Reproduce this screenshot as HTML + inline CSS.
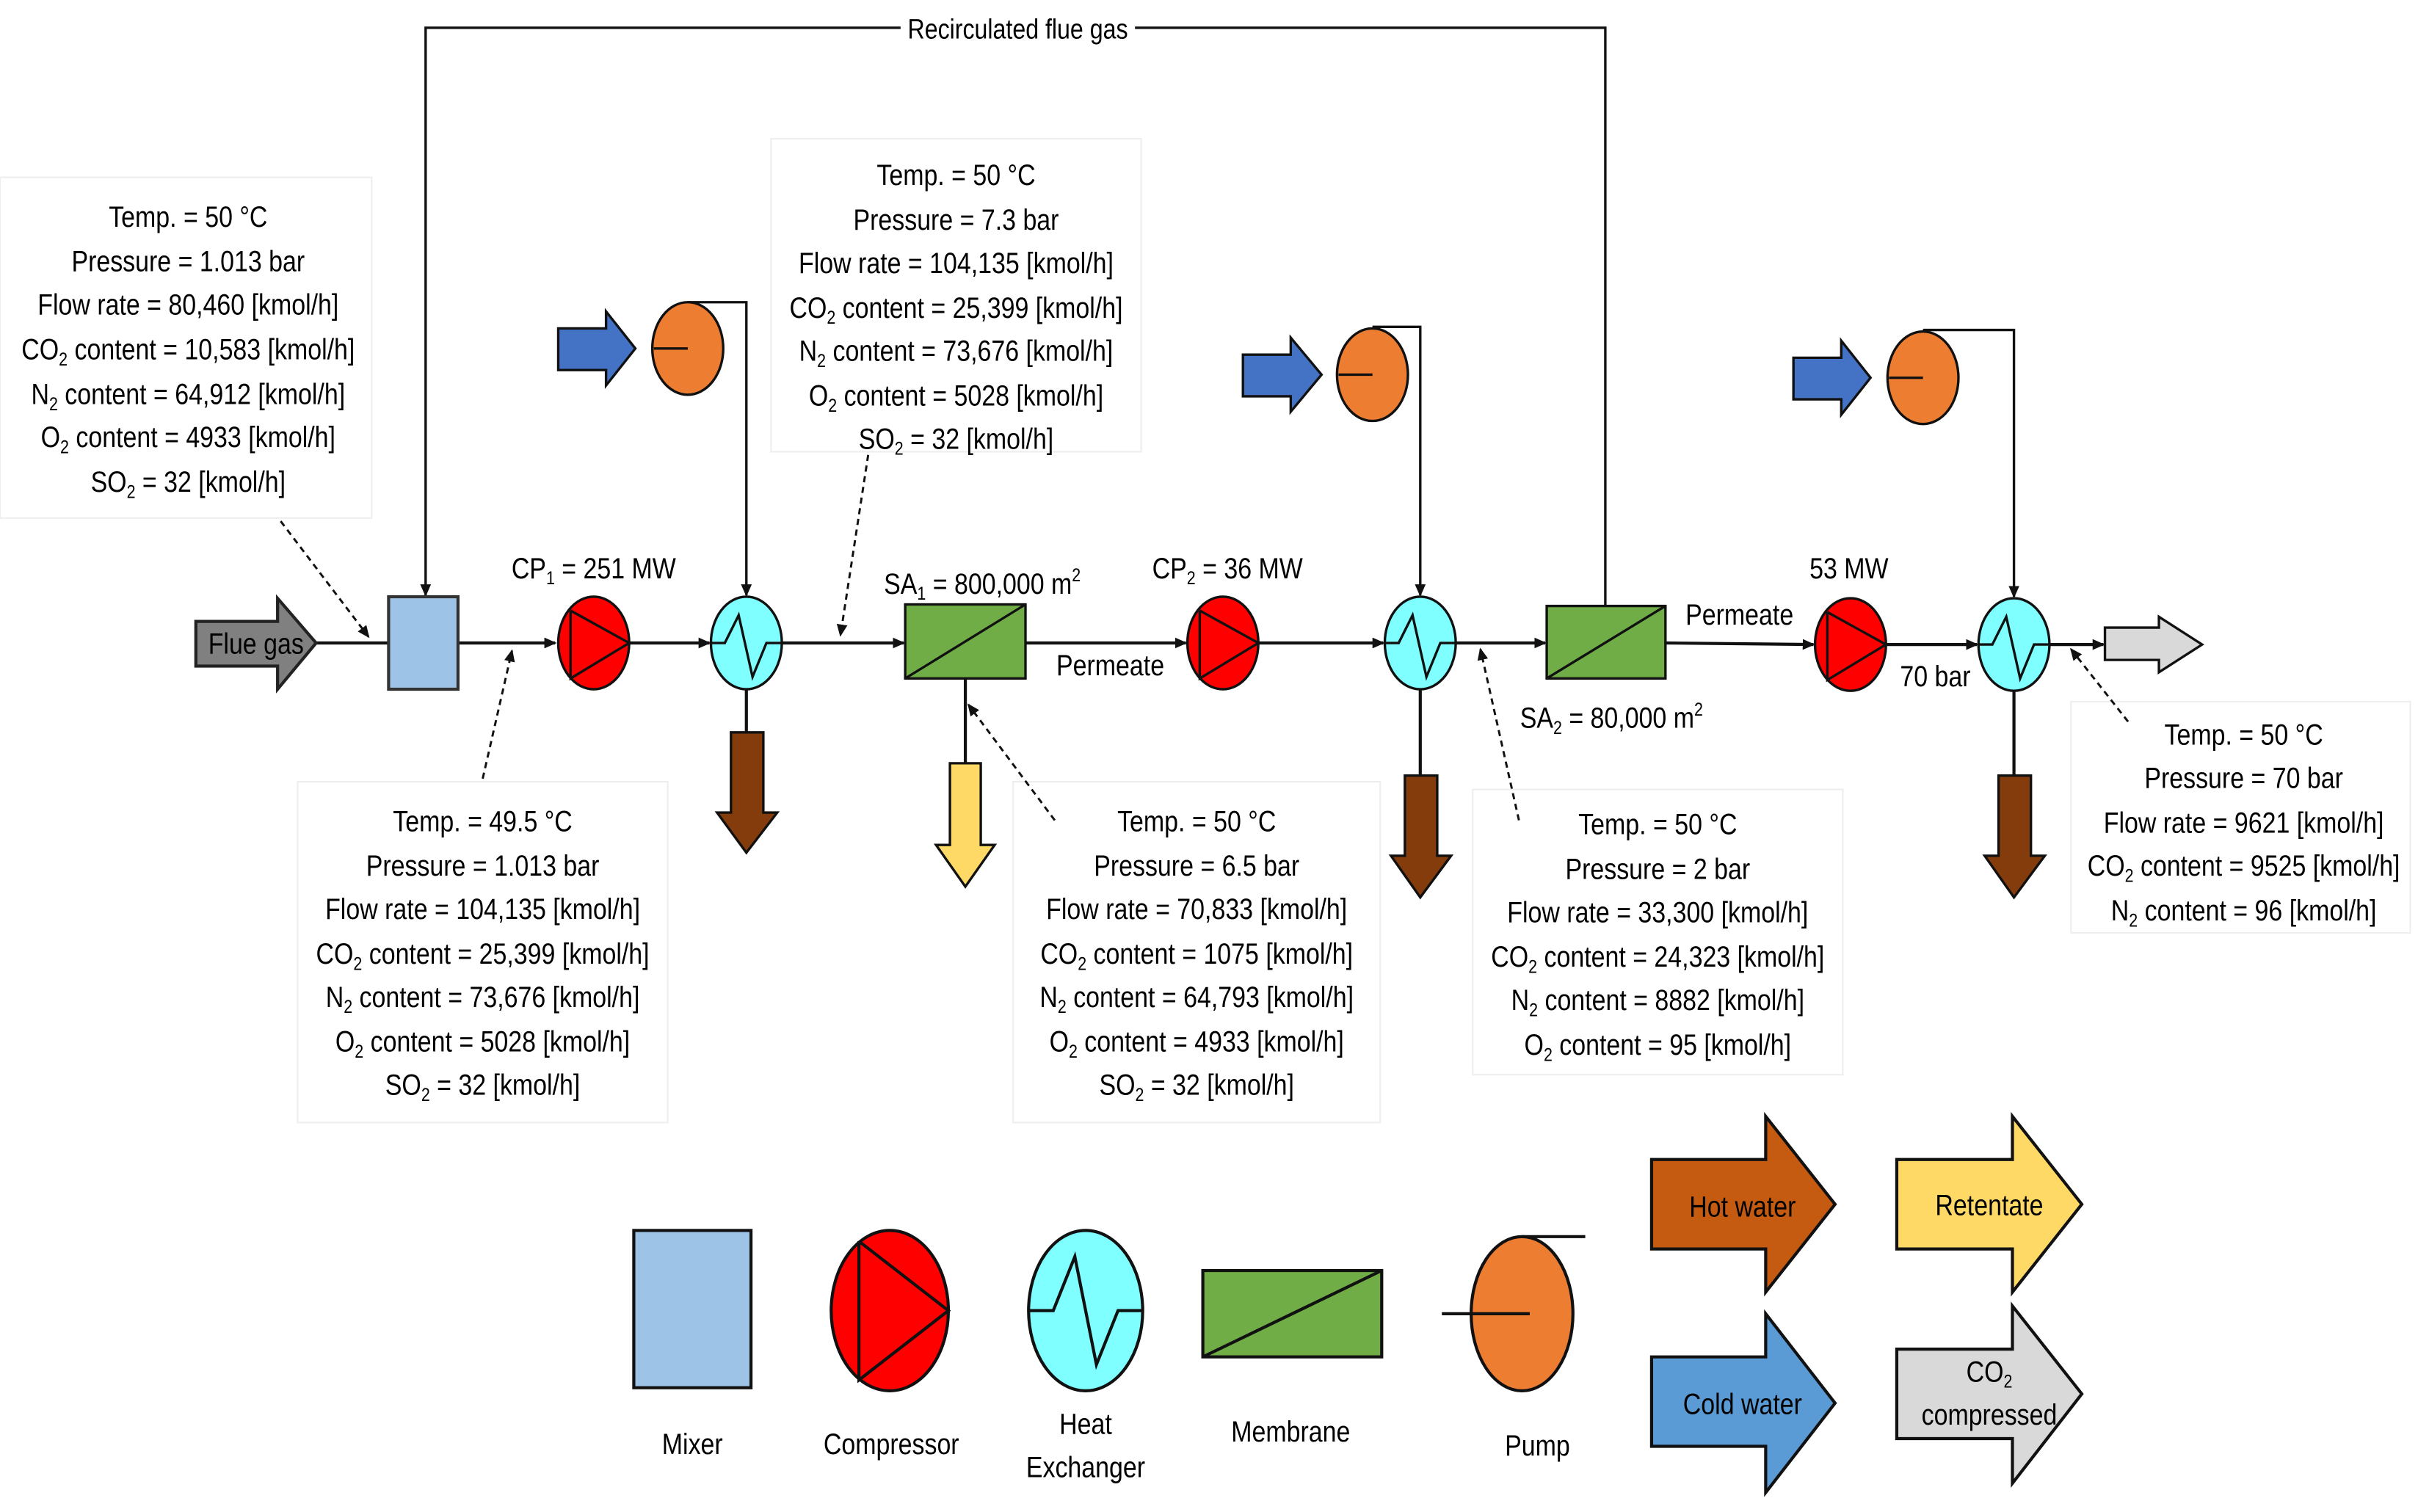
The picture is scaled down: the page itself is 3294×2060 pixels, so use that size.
<!DOCTYPE html>
<html><head><meta charset="utf-8"><style>
html,body{margin:0;padding:0;background:#fff;}
svg{display:block;}
text{font-family:"Liberation Sans",sans-serif;font-size:19px;fill:#000;text-anchor:middle;}
.s{font-size:12px;}
</style></head><body>
<svg width="3294" height="2060" viewBox="0 0 1568 980.6" xmlns="http://www.w3.org/2000/svg">
<defs>
<marker id="ar" markerWidth="8" markerHeight="8" refX="7" refY="4" orient="auto" markerUnits="userSpaceOnUse"><path d="M0,0.5 L8,4 L0,7.5 Z" fill="#111"/></marker>
</defs>
<g fill="none" stroke-width="1">
<rect x="0" y="115" width="241" height="221" stroke="#eee"/>
<rect x="193" y="507" width="240" height="221" stroke="#eee"/>
<rect x="500" y="90" width="240" height="203" stroke="#eee"/>
<rect x="657" y="507" width="238" height="221" stroke="#eee"/>
<rect x="955" y="512" width="240" height="185" stroke="#eee"/>
<rect x="1343" y="455" width="220" height="150" stroke="#eee"/>
</g>
<g stroke="#111" stroke-width="2" fill="none">
<line x1="205" y1="417" x2="252" y2="417"/>
<line x1="297" y1="417" x2="360" y2="417" marker-end="url(#ar)"/>
<line x1="408" y1="417" x2="460" y2="417" marker-end="url(#ar)"/>
<line x1="507" y1="417" x2="586" y2="417" marker-end="url(#ar)"/>
<line x1="665" y1="417" x2="769" y2="417" marker-end="url(#ar)"/>
<line x1="816" y1="417" x2="897" y2="417" marker-end="url(#ar)"/>
<line x1="944" y1="417" x2="1002" y2="417" marker-end="url(#ar)"/>
<line x1="1080" y1="417" x2="1176" y2="418" marker-end="url(#ar)"/>
<line x1="1223" y1="418" x2="1282" y2="418" marker-end="url(#ar)"/>
<line x1="1329" y1="418" x2="1364" y2="418" marker-end="url(#ar)"/>
<polyline points="1041,393 1041,18 276,18 276,386" marker-end="url(#ar)" stroke-width="1.6"/>
<polyline points="446,196 484,196 484,386" marker-end="url(#ar)" stroke-width="1.6"/>
<polyline points="890,212 921,212 921,386" marker-end="url(#ar)" stroke-width="1.6"/>
<polyline points="1247,214 1306,214 1306,387" marker-end="url(#ar)" stroke-width="1.6"/>
<line x1="484" y1="447" x2="484" y2="475"/>
<line x1="921" y1="447" x2="921" y2="503"/>
<line x1="1306" y1="448" x2="1306" y2="503"/>
<line x1="626" y1="440" x2="626" y2="495"/>
</g>
<g stroke="#111" stroke-width="1.4" stroke-dasharray="4,3" fill="none">
<line x1="182" y1="338" x2="239" y2="413" marker-end="url(#ar)"/>
<line x1="313" y1="505" x2="332" y2="422" marker-end="url(#ar)"/>
<line x1="563" y1="295" x2="545" y2="412" marker-end="url(#ar)"/>
<line x1="684" y1="532" x2="628" y2="457" marker-end="url(#ar)"/>
<line x1="985" y1="532" x2="960" y2="421" marker-end="url(#ar)"/>
<line x1="1380" y1="468" x2="1343" y2="421" marker-end="url(#ar)"/>
</g>
<rect x="584" y="8" width="152" height="20" fill="#fff"/>
<text transform="translate(660,25) scale(0.85,1)" style="font-size:18px">Recirculated flue gas</text>
<polygon points="127,403 180,403 180,388 205,417 180,447 180,432 127,432" fill="#808080" stroke="#222" stroke-width="2"/>
<text transform="translate(166,424) scale(0.85,1)">Flue gas</text>
<rect x="252" y="387" width="45" height="60" fill="#9DC3E6" stroke="#333" stroke-width="2"/>
<g stroke="#111" stroke-width="1.6">
<ellipse cx="385" cy="417" rx="23" ry="30" fill="#FF0000"/>
<polyline points="370,396 408,417 370,440 370,396" fill="none"/>
<ellipse cx="793" cy="417" rx="23" ry="30" fill="#FF0000"/>
<polyline points="778,396 816,417 778,440 778,396" fill="none"/>
<ellipse cx="1200" cy="418" rx="23" ry="30" fill="#FF0000"/>
<polyline points="1185,397 1223,418 1185,441 1185,397" fill="none"/>
<ellipse cx="484" cy="417" rx="23" ry="30" fill="#7FFFFF"/>
<polyline points="461,417 470,417 479,399 488,439 497,417 507,417" fill="none"/>
<ellipse cx="921" cy="417" rx="23" ry="30" fill="#7FFFFF"/>
<polyline points="898,417 907,417 916,399 925,439 934,417 944,417" fill="none"/>
<ellipse cx="1306" cy="418" rx="23" ry="30" fill="#7FFFFF"/>
<polyline points="1283,418 1292,418 1301,400 1310,440 1319,418 1329,418" fill="none"/>
<rect x="587" y="392" width="78" height="48" fill="#70AD47"/>
<line x1="587" y1="440" x2="665" y2="392"/>
<rect x="1003" y="393" width="77" height="47" fill="#70AD47"/>
<line x1="1003" y1="440" x2="1080" y2="393"/>
<ellipse cx="446" cy="226" rx="23" ry="30" fill="#ED7D31"/>
<ellipse cx="890" cy="243" rx="23" ry="30" fill="#ED7D31"/>
<ellipse cx="1247" cy="245" rx="23" ry="30" fill="#ED7D31"/>
<line x1="424" y1="226" x2="446" y2="226"/>
<line x1="868" y1="243" x2="890" y2="243"/>
<line x1="1225" y1="245" x2="1247" y2="245"/>
<polygon points="362,213 393,213 393,202 412,226 393,250 393,240 362,240" fill="#4472C4"/>
<polygon points="806,230 837,230 837,219 857,243 837,267 837,257 806,257" fill="#4472C4"/>
<polygon points="1163,232 1194,232 1194,221 1213,245 1194,269 1194,259 1163,259" fill="#4472C4"/>
<polygon points="474,475 495,475 495,527 504,527 484,553 465,527 474,527" fill="#843C0C"/>
<polygon points="911,503 932,503 932,555 941,555 921,582 902,555 911,555" fill="#843C0C"/>
<polygon points="1296,503 1317,503 1317,555 1326,555 1306,582 1287,555 1296,555" fill="#843C0C"/>
<polygon points="616,495 636,495 636,548 645,548 626,575 607,548 616,548" fill="#FFD966"/>
<polygon points="1365,407 1400,407 1400,400 1428,418 1400,436 1400,428 1365,428" fill="#D9D9D9"/>
</g>
<text transform="translate(385,375) scale(0.85,1)">CP<tspan class="s" dy="4">1</tspan><tspan dy="-4"> = 251 MW</tspan></text>
<text transform="translate(637,385) scale(0.85,1)">SA<tspan class="s" dy="4">1</tspan><tspan dy="-4"> = 800,000 m</tspan><tspan class="s" dy="-8">2</tspan></text>
<text transform="translate(720,438) scale(0.85,1)">Permeate</text>
<text transform="translate(796,375) scale(0.85,1)">CP<tspan class="s" dy="4">2</tspan><tspan dy="-4"> = 36 MW</tspan></text>
<text transform="translate(1128,405) scale(0.85,1)">Permeate</text>
<text transform="translate(1045,472) scale(0.85,1)">SA<tspan class="s" dy="4">2</tspan><tspan dy="-4"> = 80,000 m</tspan><tspan class="s" dy="-8">2</tspan></text>
<text transform="translate(1199,375) scale(0.85,1)">53 MW</text>
<text transform="translate(1255,445) scale(0.85,1)">70 bar</text>
<g>
<text transform="translate(122,147) scale(0.85,1)">Temp. = 50 °C</text>
<text transform="translate(122,176) scale(0.85,1)">Pressure = 1.013 bar</text>
<text transform="translate(122,204) scale(0.85,1)">Flow rate = 80,460 [kmol/h]</text>
<text transform="translate(122,233) scale(0.85,1)">CO<tspan class="s" dy="4">2</tspan><tspan dy="-4"> content = 10,583 [kmol/h]</tspan></text>
<text transform="translate(122,262) scale(0.85,1)">N<tspan class="s" dy="4">2</tspan><tspan dy="-4"> content = 64,912 [kmol/h]</tspan></text>
<text transform="translate(122,290) scale(0.85,1)">O<tspan class="s" dy="4">2</tspan><tspan dy="-4"> content = 4933 [kmol/h]</tspan></text>
<text transform="translate(122,319) scale(0.85,1)">SO<tspan class="s" dy="4">2</tspan><tspan dy="-4"> = 32 [kmol/h]</tspan></text>
</g>
<g>
<text transform="translate(620,120) scale(0.85,1)">Temp. = 50 °C</text>
<text transform="translate(620,149) scale(0.85,1)">Pressure = 7.3 bar</text>
<text transform="translate(620,177) scale(0.85,1)">Flow rate = 104,135 [kmol/h]</text>
<text transform="translate(620,206) scale(0.85,1)">CO<tspan class="s" dy="4">2</tspan><tspan dy="-4"> content = 25,399 [kmol/h]</tspan></text>
<text transform="translate(620,234) scale(0.85,1)">N<tspan class="s" dy="4">2</tspan><tspan dy="-4"> content = 73,676 [kmol/h]</tspan></text>
<text transform="translate(620,263) scale(0.85,1)">O<tspan class="s" dy="4">2</tspan><tspan dy="-4"> content = 5028 [kmol/h]</tspan></text>
<text transform="translate(620,291) scale(0.85,1)">SO<tspan class="s" dy="4">2</tspan><tspan dy="-4"> = 32 [kmol/h]</tspan></text>
</g>
<g>
<text transform="translate(313,539) scale(0.85,1)">Temp. = 49.5 °C</text>
<text transform="translate(313,568) scale(0.85,1)">Pressure = 1.013 bar</text>
<text transform="translate(313,596) scale(0.85,1)">Flow rate = 104,135 [kmol/h]</text>
<text transform="translate(313,625) scale(0.85,1)">CO<tspan class="s" dy="4">2</tspan><tspan dy="-4"> content = 25,399 [kmol/h]</tspan></text>
<text transform="translate(313,653) scale(0.85,1)">N<tspan class="s" dy="4">2</tspan><tspan dy="-4"> content = 73,676 [kmol/h]</tspan></text>
<text transform="translate(313,682) scale(0.85,1)">O<tspan class="s" dy="4">2</tspan><tspan dy="-4"> content = 5028 [kmol/h]</tspan></text>
<text transform="translate(313,710) scale(0.85,1)">SO<tspan class="s" dy="4">2</tspan><tspan dy="-4"> = 32 [kmol/h]</tspan></text>
</g>
<g>
<text transform="translate(776,539) scale(0.85,1)">Temp. = 50 °C</text>
<text transform="translate(776,568) scale(0.85,1)">Pressure = 6.5 bar</text>
<text transform="translate(776,596) scale(0.85,1)">Flow rate = 70,833 [kmol/h]</text>
<text transform="translate(776,625) scale(0.85,1)">CO<tspan class="s" dy="4">2</tspan><tspan dy="-4"> content = 1075 [kmol/h]</tspan></text>
<text transform="translate(776,653) scale(0.85,1)">N<tspan class="s" dy="4">2</tspan><tspan dy="-4"> content = 64,793 [kmol/h]</tspan></text>
<text transform="translate(776,682) scale(0.85,1)">O<tspan class="s" dy="4">2</tspan><tspan dy="-4"> content = 4933 [kmol/h]</tspan></text>
<text transform="translate(776,710) scale(0.85,1)">SO<tspan class="s" dy="4">2</tspan><tspan dy="-4"> = 32 [kmol/h]</tspan></text>
</g>
<g>
<text transform="translate(1075,541) scale(0.85,1)">Temp. = 50 °C</text>
<text transform="translate(1075,570) scale(0.85,1)">Pressure = 2 bar</text>
<text transform="translate(1075,598) scale(0.85,1)">Flow rate = 33,300 [kmol/h]</text>
<text transform="translate(1075,627) scale(0.85,1)">CO<tspan class="s" dy="4">2</tspan><tspan dy="-4"> content = 24,323 [kmol/h]</tspan></text>
<text transform="translate(1075,655) scale(0.85,1)">N<tspan class="s" dy="4">2</tspan><tspan dy="-4"> content = 8882 [kmol/h]</tspan></text>
<text transform="translate(1075,684) scale(0.85,1)">O<tspan class="s" dy="4">2</tspan><tspan dy="-4"> content = 95 [kmol/h]</tspan></text>
</g>
<g>
<text transform="translate(1455,483) scale(0.85,1)">Temp. = 50 °C</text>
<text transform="translate(1455,511) scale(0.85,1)">Pressure = 70 bar</text>
<text transform="translate(1455,540) scale(0.85,1)">Flow rate = 9621 [kmol/h]</text>
<text transform="translate(1455,568) scale(0.85,1)">CO<tspan class="s" dy="4">2</tspan><tspan dy="-4"> content = 9525 [kmol/h]</tspan></text>
<text transform="translate(1455,597) scale(0.85,1)">N<tspan class="s" dy="4">2</tspan><tspan dy="-4"> content = 96 [kmol/h]</tspan></text>
</g>
<g stroke="#111" stroke-width="2">
<rect x="411" y="798" width="76" height="102" fill="#9DC3E6"/>
<ellipse cx="577" cy="850" rx="38" ry="52" fill="#FF0000"/>
<polyline points="557,805 615,850 557,895 557,805" fill="none"/>
<ellipse cx="704" cy="850" rx="37" ry="52" fill="#7FFFFF"/>
<polyline points="667,850 683,850 697,815 711,885 725,850 741,850" fill="none"/>
<rect x="780" y="824" width="116" height="56" fill="#70AD47"/>
<line x1="780" y1="880" x2="896" y2="824"/>
<ellipse cx="987" cy="852" rx="33" ry="50" fill="#ED7D31"/>
<line x1="935" y1="852" x2="992" y2="852"/>
<line x1="987" y1="802" x2="1028" y2="802"/>
<polygon points="1071,752 1145,752 1145,724 1190,781 1145,838 1145,810 1071,810" fill="#C55A11"/>
<polygon points="1071,880 1145,880 1145,852 1190,910 1145,968 1145,938 1071,938" fill="#5B9BD5"/>
<polygon points="1230,752 1305,752 1305,724 1350,781 1305,838 1305,810 1230,810" fill="#FFD966"/>
<polygon points="1230,875 1305,875 1305,847 1350,904 1305,962 1305,933 1230,933" fill="#D9D9D9"/>
</g>
<text transform="translate(449,943) scale(0.85,1)">Mixer</text>
<text transform="translate(578,943) scale(0.85,1)">Compressor</text>
<text transform="translate(704,930) scale(0.85,1)">Heat</text>
<text transform="translate(704,958) scale(0.85,1)">Exchanger</text>
<text transform="translate(837,935) scale(0.85,1)">Membrane</text>
<text transform="translate(997,944) scale(0.85,1)">Pump</text>
<text transform="translate(1130,789) scale(0.85,1)">Hot water</text>
<text transform="translate(1130,917) scale(0.85,1)">Cold water</text>
<text transform="translate(1290,788) scale(0.85,1)">Retentate</text>
<text transform="translate(1290,896) scale(0.85,1)">CO<tspan class="s" dy="4">2</tspan></text>
<text transform="translate(1290,924) scale(0.85,1)">compressed</text>
</svg>
</body></html>
